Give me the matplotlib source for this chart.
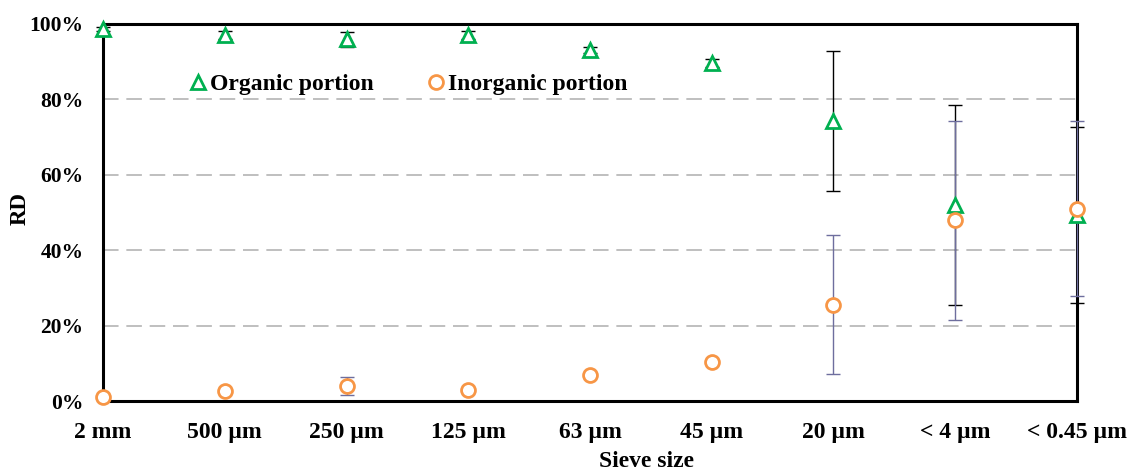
import numpy as np
import matplotlib.pyplot as plt

# Sieve size categories
sieves = ["2 mm", "500 µm", "250 µm", "125 µm", "63 µm", "45 µm", "20 µm", "< 4 µm", "< 0.45 µm"]

# RD values (%) and error bars
organic = [98.7, 97.1, 96.0, 97.1, 93.1, 89.7, 74.3, 52.0, 49.3]
organic_err = [0.5, 1.0, 2.0, 1.0, 0.8, 1.0, 18.5, 26.5, 23.4]
inorganic = [1.0, 2.6, 4.0, 2.9, 6.9, 10.3, 25.5, 48.0, 51.0]
inorganic_err = [0.3, 0.4, 2.5, 0.4, 0.5, 0.5, 18.4, 26.4, 23.2]

plt.rcParams['font.family'] = ['Liberation Serif', 'DejaVu Serif']
plt.rcParams['font.weight'] = 'bold'

fig = plt.figure(figsize=(11.32, 4.73), dpi=100)
ax = fig.add_axes([0.091, 0.1522, 0.8604, 0.7971])

x = np.arange(len(sieves))

# Error bars first, then hollow markers
eb1 = ax.errorbar(x, organic, yerr=organic_err, fmt='none', ecolor='black',
                  elinewidth=1, capsize=5, capthick=1, zorder=3)
eb2 = ax.errorbar(x, inorganic, yerr=inorganic_err, fmt='none', ecolor='#6e6e9e',
                  elinewidth=1, capsize=5, capthick=1, zorder=3)
for eb in (eb1, eb2):
    for art in eb.lines[1] + eb.lines[2]:
        art.set_clip_on(False)

ax.plot(x, organic, linestyle='none', marker='^', markersize=10,
        markerfacecolor='white', markeredgecolor='#00b050', markeredgewidth=2,
        label='Organic portion', zorder=5, clip_on=False)
ax.plot(x, inorganic, linestyle='none', marker='o', markersize=10,
        markerfacecolor='white', markeredgecolor='#f79646', markeredgewidth=2,
        label='Inorganic portion', zorder=5, clip_on=False)

ax.set_xlim(0, len(sieves) - 1)
ax.set_ylim(0, 100)
ax.set_xticks(x)
ax.set_xticklabels(sieves, fontsize=17, fontweight='bold')
ax.set_yticks(np.arange(0, 101, 20))
ax.set_yticklabels([f"{v}%" for v in range(0, 101, 20)], fontsize=15.5, fontweight='bold')
ax.tick_params(axis='y', length=0, pad=14)
ax.tick_params(axis='x', length=0, pad=15)

for v in [20, 40, 60, 80]:
    ax.axhline(v, color='#bfbfbf', linestyle=(0, (8, 4)), linewidth=1.4, zorder=1)

for side in ['left', 'bottom', 'right', 'top']:
    ax.spines[side].set_linewidth(2.2)
    ax.spines[side].set_color('black')

ax.set_ylabel('RD', fontsize=16.5, fontweight='bold')
ax.yaxis.set_label_coords(-0.074, 0.51)
ax.set_xlabel('Sieve size', fontsize=17, fontweight='bold')
ax.xaxis.set_label_coords(0.5575, -0.133)

ax.legend(loc='center left', bbox_to_anchor=(0.0852, 0.84), ncol=2, frameon=False,
          fontsize=17, handletextpad=0.0, columnspacing=2.15, handlelength=1.0,
          borderpad=0, borderaxespad=0)

fig.savefig('out.png', dpi=100)
